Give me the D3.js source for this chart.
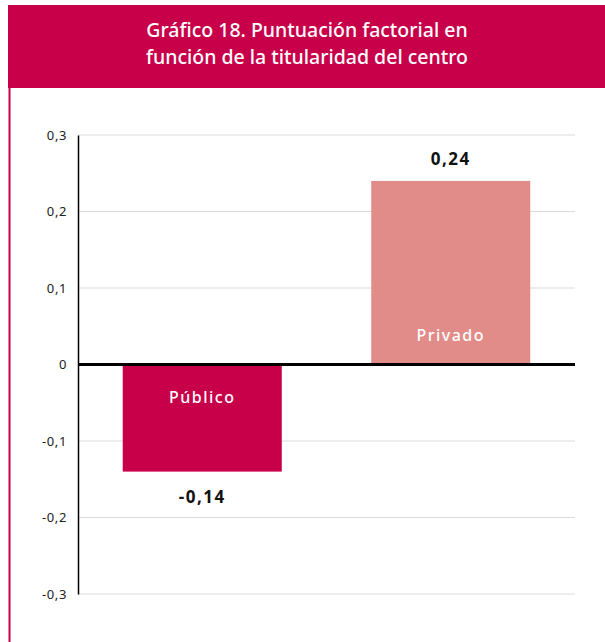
<!DOCTYPE html>
<html>
<head>
<meta charset="utf-8">
<script src="https://cdn.jsdelivr.net/npm/d3@7"></script>
<style>
  body { margin: 0; background: #fff; }
  svg { display: block; font-family: "Noto Sans", sans-serif; }
</style>
</head>
<body>
<script>
// chart data
let categories = ["Público", "Privado"]
let values = [-0.14, 0.24]
let tickValues = [-0.3, -0.2, -0.1, 0, 0.1, 0.2, 0.3]
let titleLines = ["Gráfico 18. Puntuación factorial en", "función de la titularidad del centro"]
let barColors = ["#c8004a", "#e28c8a"]

let fmt = d => d3.format(".2~f")(d).replace(".", ",").replace("−", "-")

let svg = d3.select("body")
            .append("svg")
            .attr("width", 605)
            .attr("height", 642)

// header band and left border
svg.append("rect")
   .attr("x", 8).attr("y", 5)
   .attr("width", 597).attr("height", 83)
   .attr("fill", "#c8004a")
svg.append("line")
   .attr("x1", 9.5).attr("x2", 9.5)
   .attr("y1", 88).attr("y2", 642)
   .attr("stroke", "#c8004a").attr("stroke-width", 2)

svg.selectAll(".title")
   .data(titleLines)
   .enter()
   .append("text")
   .attr("class", "title")
   .attr("x", 307)
   .attr("y", (d, i) => 37 + i * 27)
   .attr("text-anchor", "middle")
   .attr("fill", "#fff")
   .attr("font-size", 19.5)
   .attr("font-weight", 500)
   .text(d => d)

// scales
let x = d3.scaleBand()
          .domain(categories)
          .range([78, 575])
          .paddingInner(0.36)
          .paddingOuter(0.18)

let y = d3.scaleLinear()
          .domain([-0.3, 0.3])
          .range([594, 135])

// gridlines
svg.append("g")
   .selectAll("line")
   .data(tickValues)
   .enter()
   .append("line")
   .attr("x1", 78).attr("x2", 575)
   .attr("y1", d => y(d)).attr("y2", d => y(d))
   .attr("stroke", "#dcdcdc")

// y axis
let yAxis = svg.append("g")
               .attr("transform", "translate(78,0)")
               .call(d3.axisLeft(y).tickValues(tickValues).tickSize(0).tickPadding(11).tickFormat(fmt))
yAxis.select(".domain").attr("stroke", "#000").attr("stroke-width", 1.5)
yAxis.selectAll("text")
     .attr("font-size", 13)
     .attr("letter-spacing", 0.6)
     .attr("fill", "#222")
     .attr("font-family", "Noto Sans")

// bars
let data = categories.map((c, i) => ({ cat: c, val: values[i], color: barColors[i] }))

svg.selectAll(".bar")
   .data(data)
   .enter()
   .append("rect")
   .attr("class", "bar")
   .attr("x", d => x(d.cat))
   .attr("width", x.bandwidth())
   .attr("y", d => y(Math.max(0, d.val)))
   .attr("height", d => Math.abs(y(d.val) - y(0)))
   .attr("fill", d => d.color)

// zero line
svg.append("line")
   .attr("x1", 78).attr("x2", 575)
   .attr("y1", y(0)).attr("y2", y(0))
   .attr("stroke", "#000").attr("stroke-width", 3)

// value labels
svg.selectAll(".val")
   .data(data)
   .enter()
   .append("text")
   .attr("class", "val")
   .attr("x", d => x(d.cat) + x.bandwidth() / 2)
   .attr("y", d => d.val > 0 ? y(d.val) - 16 : y(d.val) + 31)
   .attr("text-anchor", "middle")
   .attr("font-size", 17)
   .attr("font-weight", "bold")
   .attr("letter-spacing", 1.5)
   .attr("fill", "#111")
   .text(d => fmt(d.val))

// category labels inside bars
svg.selectAll(".cat")
   .data(data)
   .enter()
   .append("text")
   .attr("class", "cat")
   .attr("x", d => x(d.cat) + x.bandwidth() / 2)
   .attr("y", d => d.val > 0 ? y(0) - 24 : y(0) + 38)
   .attr("text-anchor", "middle")
   .attr("font-size", 16)
   .attr("font-weight", 500)
   .attr("letter-spacing", 1.5)
   .attr("fill", "#fff")
   .text(d => d.cat)
</script>
</body>
</html>
